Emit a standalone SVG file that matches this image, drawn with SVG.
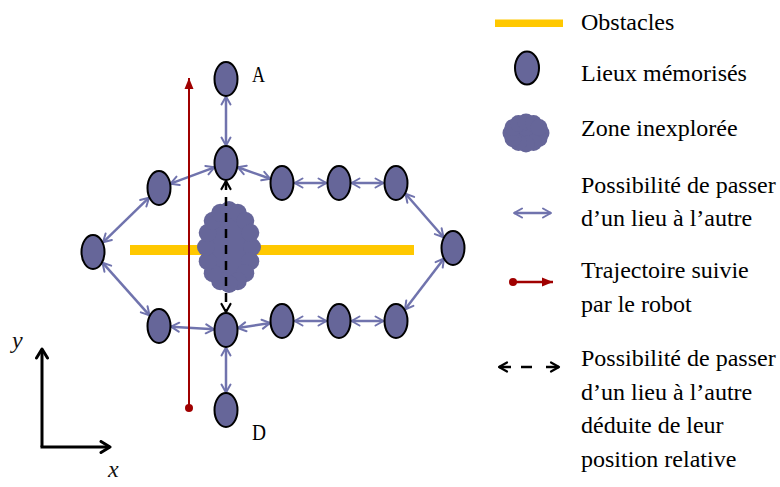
<svg xmlns="http://www.w3.org/2000/svg" width="780" height="487" viewBox="0 0 780 487">
<style>
.node{fill:#666699;stroke:#000;stroke-width:2}
.edge{stroke:#7073AD;stroke-width:2.5;fill:none;marker-start:url(#ab);marker-end:url(#ab)}
.dash{stroke:#000;stroke-width:2.5;fill:none;stroke-dasharray:9 7;marker-start:url(#kb);marker-end:url(#kb)}
.lbl{font-family:"Liberation Serif","DejaVu Serif",serif;font-size:24px;fill:#000}
.cloud{fill:#666699}
.axis{stroke:#000;stroke-width:3;fill:none}
.math{font-family:"Liberation Serif","DejaVu Serif",serif;font-style:italic;font-size:24px;fill:#111}
</style>
<defs>
<marker id="ab" markerUnits="userSpaceOnUse" viewBox="0 0 12 12" markerWidth="12" markerHeight="12" refX="10.5" refY="6" orient="auto-start-reverse">
<path d="M2.5,1.5 L10.5,6 L2.5,10.5" fill="none" stroke="#7073AD" stroke-width="2" stroke-linecap="round" stroke-linejoin="round"/>
</marker>
<marker id="kb" markerUnits="userSpaceOnUse" viewBox="0 0 12 12" markerWidth="12" markerHeight="12" refX="10.5" refY="6" orient="auto-start-reverse">
<path d="M2.5,1.5 L10.5,6 L2.5,10.5" fill="none" stroke="#000" stroke-width="2.2" stroke-linecap="round" stroke-linejoin="round"/>
</marker>
<marker id="rt" markerUnits="userSpaceOnUse" viewBox="0 0 12 10" markerWidth="12" markerHeight="10" refX="11" refY="5" orient="auto">
<path d="M0,0.5 L11,5 L0,9.5 z" fill="#A00000"/>
</marker>
<marker id="ax" markerUnits="userSpaceOnUse" viewBox="0 0 14 14" markerWidth="14" markerHeight="14" refX="12" refY="7" orient="auto">
<path d="M3,1.5 L12,7 L3,12.5" fill="none" stroke="#000" stroke-width="3" stroke-linecap="round" stroke-linejoin="round"/>
</marker>
</defs>
<rect width="780" height="487" fill="#fff"/>

<!-- obstacle -->
<rect id="obstacle" x="130" y="245" width="284" height="10" fill="#FFC800"/>

<!-- unexplored zone -->
<g id="zone" class="cloud">
<ellipse cx="229" cy="247" rx="23" ry="37"/>
<circle cx="252" cy="247" r="9"/><circle cx="250.3" cy="261.2" r="9"/><circle cx="245.3" cy="273.2" r="9"/><circle cx="237.8" cy="281.2" r="9"/>
<circle cx="229" cy="284" r="9"/><circle cx="220.2" cy="281.2" r="9"/><circle cx="212.7" cy="273.2" r="9"/><circle cx="207.7" cy="261.2" r="9"/>
<circle cx="206" cy="247" r="9"/><circle cx="207.7" cy="232.8" r="9"/><circle cx="212.7" cy="220.8" r="9"/><circle cx="220.2" cy="212.8" r="9"/>
<circle cx="229" cy="210" r="9"/><circle cx="237.8" cy="212.8" r="9"/><circle cx="245.3" cy="220.8" r="9"/><circle cx="250.3" cy="232.8" r="9"/>
</g>

<g id="connectors">
<line class="edge" x1="226" y1="96.5" x2="226" y2="145.5"/>
<line class="edge" x1="214.4" y1="167.3" x2="170.6" y2="183.7"/>
<line class="edge" x1="237.7" y1="167.2" x2="270.3" y2="178.8"/>
<line class="edge" x1="294.5" y1="183" x2="326.5" y2="183"/>
<line class="edge" x1="351.5" y1="183" x2="383.5" y2="183"/>
<line class="edge" x1="405.5" y1="193.8" x2="443.5" y2="237.2"/>
<line class="edge" x1="149" y1="197.7" x2="103" y2="242.3"/>
<line class="edge" x1="102.5" y1="262.7" x2="149.5" y2="315.3"/>
<line class="edge" x1="171" y1="326.7" x2="214" y2="329.3"/>
<line class="edge" x1="237.9" y1="328.1" x2="270.1" y2="322.9"/>
<line class="edge" x1="294.5" y1="321" x2="326.5" y2="321"/>
<line class="edge" x1="351.5" y1="321" x2="383.5" y2="321"/>
<line class="edge" x1="405" y1="309.5" x2="444" y2="258.5"/>
<line class="edge" x1="226" y1="347.5" x2="226" y2="392.5"/>
<line class="dash" x1="226" y1="181" x2="226" y2="312"/>
</g>

<!-- robot trajectory -->
<g id="trajectory">
<line x1="189" y1="408" x2="189" y2="78" stroke="#A00000" stroke-width="2" marker-end="url(#rt)"/>
<circle cx="189" cy="408" r="4" fill="#A00000"/>
</g>

<g id="nA"><ellipse class="node" cx="226" cy="79" rx="11.5" ry="17"/><text class="lbl" x="252" y="82" font-size="27" textLength="13" lengthAdjust="spacingAndGlyphs">A</text></g>
<g id="nT"><ellipse class="node" cx="226" cy="163" rx="11.5" ry="17"/></g>
<g id="nR1"><ellipse class="node" cx="282" cy="183" rx="11.5" ry="17"/></g>
<g id="nR2"><ellipse class="node" cx="339" cy="183" rx="11.5" ry="17"/></g>
<g id="nR3"><ellipse class="node" cx="396" cy="183" rx="11.5" ry="17"/></g>
<g id="nTL"><ellipse class="node" cx="159" cy="188" rx="11.5" ry="17"/></g>
<g id="nL"><ellipse class="node" cx="93" cy="252" rx="11.5" ry="17"/></g>
<g id="nR"><ellipse class="node" cx="453" cy="248" rx="11.5" ry="17"/></g>
<g id="nBL"><ellipse class="node" cx="159" cy="326" rx="11.5" ry="17"/></g>
<g id="nB"><ellipse class="node" cx="226" cy="330" rx="11.5" ry="17"/></g>
<g id="nBR1"><ellipse class="node" cx="282" cy="321" rx="11.5" ry="17"/></g>
<g id="nBR2"><ellipse class="node" cx="339" cy="321" rx="11.5" ry="17"/></g>
<g id="nBR3"><ellipse class="node" cx="396" cy="321" rx="11.5" ry="17"/></g>
<g id="nD"><ellipse class="node" cx="226" cy="410" rx="11.5" ry="17"/><text class="lbl" x="252" y="440" font-size="27" textLength="14" lengthAdjust="spacingAndGlyphs">D</text></g>

<!-- axes -->
<g id="axes">
<line class="axis" x1="42" y1="447" x2="42" y2="349" marker-end="url(#ax)"/>
<line class="axis" x1="40.5" y1="447" x2="110" y2="447" marker-end="url(#ax)"/>
<text class="math" x="12" y="348">y</text>
<text class="math" x="108" y="477">x</text>
</g>

<!-- legend -->
<g id="legend">
<rect x="495" y="19.5" width="68" height="7.5" fill="#FFC800"/>
<text class="lbl" x="581" y="30">Obstacles</text>
<ellipse class="node" cx="527" cy="68" rx="12" ry="16.5"/>
<text class="lbl" x="581" y="81">Lieux mémorisés</text>
<g class="cloud">
<ellipse cx="526" cy="133" rx="15" ry="11"/>
<circle cx="541" cy="133" r="8.5"/><circle cx="539" cy="138.5" r="8.5"/><circle cx="533.5" cy="142.5" r="8.5"/><circle cx="526" cy="144" r="8.5"/>
<circle cx="518.5" cy="142.5" r="8.5"/><circle cx="513" cy="138.5" r="8.5"/><circle cx="511" cy="133" r="8.5"/><circle cx="513" cy="127.5" r="8.5"/>
<circle cx="518.5" cy="123.5" r="8.5"/><circle cx="526" cy="122" r="8.5"/><circle cx="533.5" cy="123.5" r="8.5"/><circle cx="539" cy="127.5" r="8.5"/>
</g>
<text class="lbl" x="581" y="136">Zone inexplorée</text>
<line class="edge" x1="514" y1="213" x2="551" y2="213"/>
<text class="lbl" x="581" y="192.5">Possibilité de passer</text>
<text class="lbl" x="581" y="226">d’un lieu à l’autre</text>
<line x1="513" y1="282" x2="553" y2="282" stroke="#A00000" stroke-width="2.5" marker-end="url(#rt)"/>
<circle cx="513" cy="282" r="4" fill="#A00000"/>
<text class="lbl" x="581" y="278">Trajectoire suivie</text>
<text class="lbl" x="581" y="311.5">par le robot</text>
<line x1="511" y1="367" x2="499" y2="367" stroke="#000" stroke-width="2.5" marker-end="url(#kb)"/>
<line x1="521" y1="367" x2="532" y2="367" stroke="#000" stroke-width="2.5"/>
<line x1="546" y1="367" x2="559" y2="367" stroke="#000" stroke-width="2.5" marker-end="url(#kb)"/>
<text class="lbl" x="581" y="366">Possibilité de passer</text>
<text class="lbl" x="581" y="400">d’un lieu à l’autre</text>
<text class="lbl" x="581" y="433">déduite de leur</text>
<text class="lbl" x="581" y="466.5">position relative</text>
</g>
</svg>
